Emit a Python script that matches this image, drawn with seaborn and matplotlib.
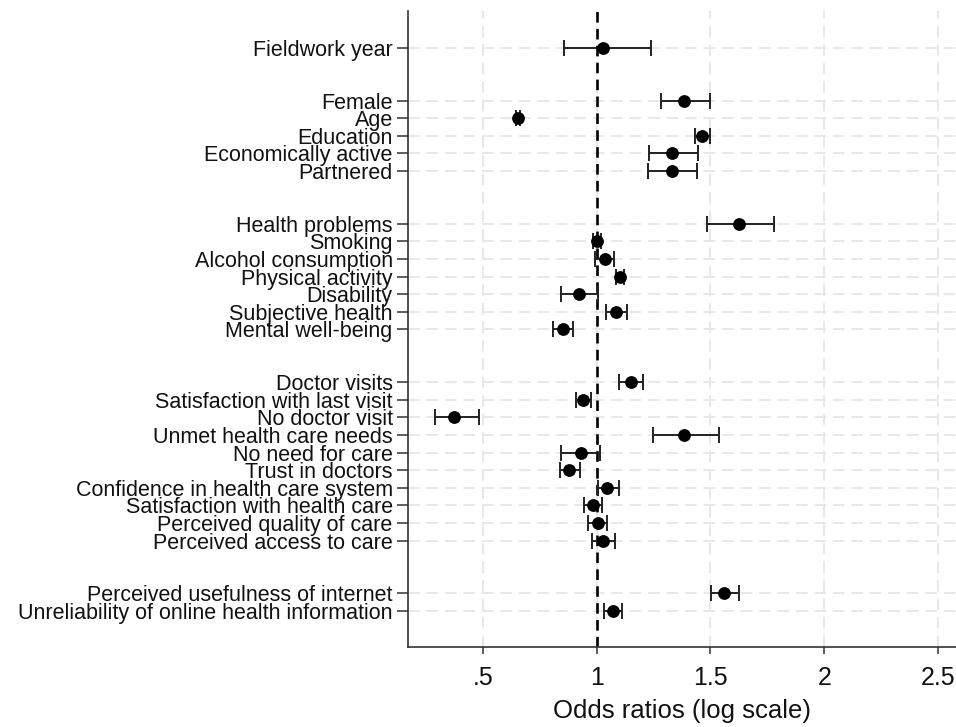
import numpy as np
import pandas as pd
import seaborn as sns
import matplotlib.pyplot as plt

# variables grouped in blocks
groups = [
    ["Fieldwork year"],
    ["Female", "Age", "Education", "Economically active", "Partnered"],
    ["Health problems", "Smoking", "Alcohol consumption", "Physical activity",
     "Disability", "Subjective health", "Mental well-being"],
    ["Doctor visits", "Satisfaction with last visit", "No doctor visit",
     "Unmet health care needs", "No need for care", "Trust in doctors",
     "Confidence in health care system", "Satisfaction with health care",
     "Perceived quality of care", "Perceived access to care"],
    ["Perceived usefulness of internet", "Unreliability of online health information"],
]

odds = [1.027,
        1.385, 0.654, 1.464, 1.333, 1.330,
        1.627, 1.002, 1.035, 1.102, 0.924, 1.086, 0.852,
        1.150, 0.941, 0.373, 1.383, 0.929, 0.879, 1.046, 0.982, 1.004, 1.027,
        1.561, 1.071]
ci_low = [0.855,
          1.282, 0.646, 1.430, 1.230, 1.227,
          1.483, 0.985, 0.993, 1.085, 0.843, 1.041, 0.810,
          1.100, 0.907, 0.290, 1.246, 0.843, 0.837, 1.004, 0.944, 0.963, 0.980,
          1.502, 1.032]
ci_high = [1.238,
           1.499, 0.662, 1.499, 1.444, 1.440,
           1.779, 1.020, 1.077, 1.120, 1.008, 1.135, 0.898,
           1.202, 0.976, 0.482, 1.539, 1.013, 0.926, 1.099, 1.022, 1.044, 1.080,
           1.624, 1.112]

# y positions with two empty rows between blocks
labels, pos = [], []
p = 0
for g in groups:
    for lab in g:
        labels.append(lab)
        pos.append(p)
        p += 1
    p += 2

df = pd.DataFrame({"label": labels, "pos": pos, "odds": odds,
                   "lo": ci_low, "hi": ci_high})

sns.set_style("white")
plt.rcParams['font.family'] = ['Liberation Sans', 'DejaVu Sans']
plt.rcParams['text.color'] = '#111111'
plt.rcParams['xtick.labelcolor'] = '#111111'
plt.rcParams['ytick.labelcolor'] = '#111111'
plt.rcParams['axes.labelcolor'] = '#111111'

fig = plt.figure(figsize=(9.56, 7.27), dpi=100)
ax = fig.add_axes([0.4268, 0.110, 0.5732, 0.875])

ax.grid(True, color="#e8e8e8", linestyle=(0, (6, 3.5)), linewidth=1.4)
ax.set_axisbelow(True)
ax.axvline(1, color="black", linestyle=(0, (4, 2.4)), linewidth=1.9, zorder=2)

ax.errorbar(df["odds"], df["pos"],
            xerr=[df["odds"] - df["lo"], df["hi"] - df["odds"]],
            fmt="none", ecolor="#222222", elinewidth=1.4, capsize=6,
            capthick=1.4, zorder=3)
sns.scatterplot(data=df, x="odds", y="pos", color="black", s=85,
                edgecolor="black", linewidth=0, ax=ax, zorder=4)

ax.set_xlim(0.171, 2.579)
ax.set_ylim(34.05, -2.1)
ax.set_xticks([0.5, 1, 1.5, 2, 2.5])
ax.set_xticklabels([".5", "1", "1.5", "2", "2.5"], fontsize=18)
ax.set_yticks(df["pos"])
ax.set_yticklabels(df["label"], fontsize=15.5)
ax.set_xlabel("Odds ratios (log scale)", fontsize=18.5, labelpad=6)
ax.set_ylabel("")

for s in ["top", "right"]:
    ax.spines[s].set_visible(False)
for s in ["left", "bottom"]:
    ax.spines[s].set_color("#333333")
    ax.spines[s].set_linewidth(1.2)
ax.tick_params(axis="both", which="major", width=1.1,
               color="#333333", direction="out", left=True, bottom=True)
ax.tick_params(axis="y", length=8, pad=3)
ax.tick_params(axis="x", length=5, pad=9)

fig.savefig("out.png", dpi=100)
